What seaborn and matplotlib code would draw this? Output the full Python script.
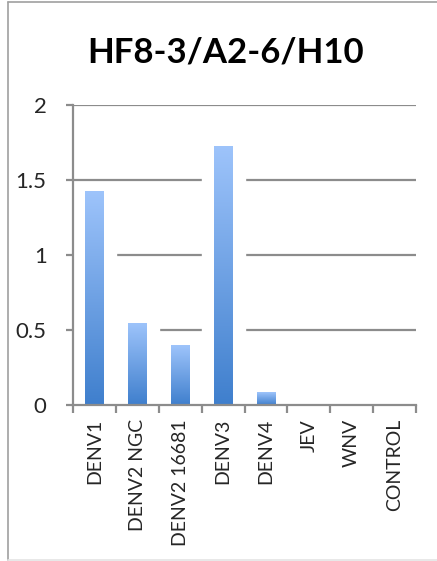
import numpy as np
import pandas as pd
import seaborn as sns
from matplotlib import pyplot as plt
from matplotlib.lines import Line2D

# data
viruses = ['DENV1', 'DENV2 NGC', 'DENV2 16681', 'DENV3', 'DENV4', 'JEV', 'WNV', 'CONTROL']
signal = [1.43, 0.55, 0.40, 1.73, 0.085, 0.0, 0.0, 0.005]
yticks = [0, 0.5, 1, 1.5, 2]
ytick_labels = ['0', '0.5', '1', '1.5', '2']

df = pd.DataFrame({'virus': viruses, 'signal': signal})

sns.set_theme(style='white')
plt.rcParams['font.family'] = ['Lato', 'DejaVu Sans']

fig = plt.figure(figsize=(4.37, 5.61), dpi=100)
ax = fig.add_axes([73 / 437, 1 - 405 / 561, (416 - 73) / 437, 300 / 561])

# gridlines
for y in yticks[1:]:
    ax.axhline(y, color='#8c8c8c', lw=1.6, zorder=0)

# white mask over the full slot where a bar rises (Excel quirk)
sns.barplot(data=df, x='virus', y='signal', color='white', width=1.0,
            saturation=1, ax=ax, zorder=1)
n_mask = len(ax.patches)

# the actual bars
sns.barplot(data=df, x='virus', y='signal', color='#5a93df', width=0.42,
            saturation=1, ax=ax, zorder=2)

grad = np.linspace(0, 1, 256).reshape(-1, 1)
cmap = sns.blend_palette(['#3f7fcd', '#9ec4fb'], as_cmap=True)
for p in ax.patches[n_mask:]:
    x0, y0 = p.get_x(), p.get_y()
    w, h = p.get_width(), p.get_height()
    if h <= 0:
        continue
    p.set_edgecolor('none')
    im = ax.imshow(grad, cmap=cmap, origin='lower', aspect='auto',
                   extent=[x0, x0 + w, y0, y0 + h], zorder=3)
    im.set_clip_path(p)

ax.set_xlim(-0.5, len(viruses) - 0.5)
ax.set_ylim(0, 2)
ax.set_xlabel('')
ax.set_ylabel('')

# spines
for s in ['top', 'right']:
    ax.spines[s].set_visible(False)
for s in ['left', 'bottom']:
    ax.spines[s].set_color('#8c8c8c')
    ax.spines[s].set_linewidth(1.6)
    ax.spines[s].set_zorder(4)

ax.set_yticks(yticks)
ax.set_yticklabels(ytick_labels, fontsize=16)
ax.tick_params(axis='y', direction='out', length=5, width=1.6, color='#8c8c8c',
               left=True, pad=14)

# category ticks between slots, labels centred under bars
ax.set_xticks(np.arange(len(viruses) + 1) - 0.5, minor=True)
ax.set_xticks(np.arange(len(viruses)))
ax.set_xticklabels(viruses, rotation=90, fontsize=14, va='top')
ax.tick_params(axis='x', which='minor', direction='out', length=6, width=1.6,
               color='#8c8c8c', bottom=True)
ax.tick_params(axis='x', which='major', length=0, pad=10)

fig.text(226 / 437, 1 - 52 / 561, 'HF8-3/A2-6/H10', ha='center', va='center',
         fontsize=25, fontweight='bold', color='black')

# outer frame of the chart box (left, top, bottom edges only)
fx = 8 / 437
ftop = 1 - 2 / 561
fbot = 1 - 559.5 / 561
kw = dict(transform=fig.transFigure, color='#a0a0a0', lw=1.2)
fig.add_artist(Line2D([fx, fx], [fbot, ftop], **kw))
fig.add_artist(Line2D([fx, 1.0], [ftop, ftop], **kw))
fig.add_artist(Line2D([fx, 1.0], [fbot, fbot], color='#e4e4e4', lw=1.2,
                      transform=fig.transFigure))

fig.savefig('out.png', dpi=100)
